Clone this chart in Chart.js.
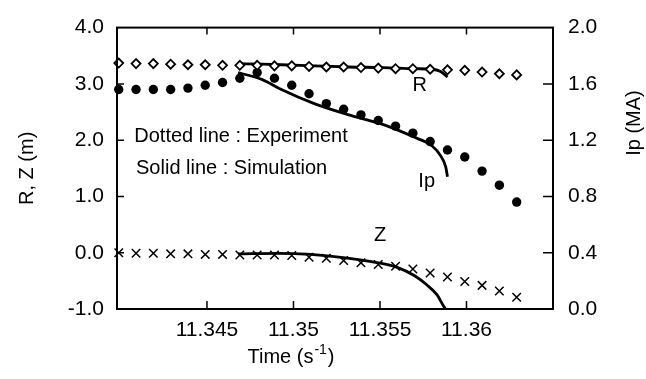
<!DOCTYPE html>
<html>
<head>
<meta charset="utf-8">
<script src="https://cdn.jsdelivr.net/npm/chart.js@4.4.1/dist/chart.umd.min.js"></script>
<style>
  html, body { margin: 0; padding: 0; background: #fff; }
</style>
</head>
<body>
<canvas id="chart" width="646" height="379"></canvas>
<script>
const FONT = "'Liberation Sans', Arial, Helvetica, sans-serif";

// ===== data =====
// experiment (markers)
const expTime = [11.3399, 11.3409, 11.3419, 11.3429, 11.3439, 11.3449, 11.3459, 11.3469,
                 11.3479, 11.3489, 11.3499, 11.3509, 11.3519, 11.3529, 11.3539, 11.3549,
                 11.3559, 11.3569, 11.3579, 11.3589, 11.3599, 11.3609, 11.3619, 11.3629];
const rExp  = [3.37, 3.36, 3.36, 3.35, 3.34, 3.34, 3.33, 3.33, 3.33, 3.32, 3.32, 3.31,
               3.30, 3.30, 3.29, 3.28, 3.27, 3.27, 3.26, 3.25, 3.24, 3.21, 3.18, 3.16];
const ipExp = [1.56, 1.56, 1.56, 1.56, 1.57, 1.59, 1.61, 1.64, 1.68, 1.64, 1.59, 1.53,
               1.46, 1.42, 1.38, 1.34, 1.30, 1.25, 1.19, 1.13, 1.08, 0.98, 0.88, 0.76];
const zExp  = [0.00, -0.01, -0.01, -0.02, -0.02, -0.03, -0.03, -0.04, -0.04, -0.04, -0.05, -0.08,
               -0.10, -0.14, -0.18, -0.21, -0.24, -0.29, -0.36, -0.43, -0.51, -0.58, -0.68, -0.79];

// simulation (solid lines)
const simTime = [11.3468, 11.3482, 11.3493, 11.3512, 11.3532, 11.3552, 11.3570, 11.3580, 11.3585, 11.3588, 11.3589];
const rSim    = [3.36, 3.35, 3.34, 3.32, 3.30, 3.29, 3.27, 3.26, 3.22, 3.15, 3.12];
const ipSim   = [1.68, 1.63, 1.56, 1.46, 1.38, 1.31, 1.22, 1.16, 1.09, 1.01, 0.94];
const zSimTime = [11.3468, 11.3491, 11.3510, 11.3530, 11.3549, 11.3560, 11.3570, 11.3577, 11.3583, 11.3587, 11.3588];
const zSim     = [-0.02, -0.01, -0.03, -0.09, -0.18, -0.26, -0.41, -0.57, -0.75, -0.96, -1.00];

// axes
const xMin = 11.3398, xMax = 11.365;
const xTicks = [11.345, 11.35, 11.355, 11.36];
const xTickLabels = ['11.345', '11.35', '11.355', '11.36'];
const leftTicks = [-1, 0, 1, 2, 3, 4];
const rightTicks = [0, 0.4, 0.8, 1.2, 1.6, 2.0];

// text inside the plot (data coordinates, left axis)
const notes = [
  { text: 'R', x: 11.3573, y: 2.98, align: 'center' },
  { text: 'Ip', x: 11.3577, y: 1.27, align: 'center' },
  { text: 'Z', x: 11.3550, y: 0.30, align: 'center' },
  { text: 'Dotted line : Experiment', x: 11.3408, y: 2.06, align: 'left' },
  { text: 'Solid line : Simulation', x: 11.3409, y: 1.50, align: 'left' }
];

const pts = (xs, ys) => xs.map((x, i) => ({ x: x, y: ys[i] }));

// ===== frame, inward ticks, notes, titles =====
const paperFrame = {
  id: 'paperFrame',
  afterDatasetsDraw(chart) {
    const c = chart.ctx;
    const a = chart.chartArea;
    const sx = chart.scales.x, sy = chart.scales.y, sy1 = chart.scales.y1;
    c.save();
    c.strokeStyle = '#000';
    c.lineWidth = 2;
    c.strokeRect(a.left, a.top, a.right - a.left, a.bottom - a.top);

    c.lineWidth = 1.5;
    c.beginPath();
    xTicks.forEach(v => {
      const px = sx.getPixelForValue(v);
      c.moveTo(px, a.bottom); c.lineTo(px, a.bottom - 8);
      c.moveTo(px, a.top); c.lineTo(px, a.top + 7);
    });
    leftTicks.slice(1, -1).forEach(v => {
      const py = sy.getPixelForValue(v);
      c.moveTo(a.left, py); c.lineTo(a.left + 7, py);
    });
    rightTicks.slice(1, -1).forEach(v => {
      const py = sy1.getPixelForValue(v);
      c.moveTo(a.right, py); c.lineTo(a.right - 10, py);
    });
    c.stroke();

    c.fillStyle = '#000';
    c.textBaseline = 'middle';
    c.font = '20px ' + FONT;
    notes.forEach(n => {
      c.textAlign = n.align;
      c.fillText(n.text, sx.getPixelForValue(n.x), sy.getPixelForValue(n.y));
    });

    // x title with superscript
    c.textAlign = 'left';
    const p1 = 'Time (s', p3 = ')';
    const w1 = c.measureText(p1).width, w3 = c.measureText(p3).width;
    c.font = '14px ' + FONT;
    const w2 = c.measureText('-1').width;
    const tx = 291 - (w1 + w2 + w3 + 2) / 2;
    const ty = 357;
    c.font = '20px ' + FONT;
    c.fillText(p1, tx, ty);
    c.font = '14px ' + FONT;
    c.fillText('-1', tx + w1 + 1, ty - 7);
    c.font = '20px ' + FONT;
    c.fillText(p3, tx + w1 + w2 + 2, ty);

    // right title, reading bottom to top
    c.translate(634, 123);
    c.rotate(-Math.PI / 2);
    c.textAlign = 'center';
    c.fillText('Ip (MA)', 0, 0);
    c.restore();
  }
};

new Chart(document.getElementById('chart'), {
  type: 'line',
  data: {
    datasets: [
      {
        label: 'R experiment', data: pts(expTime, rExp), yAxisID: 'y', showLine: false,
        pointStyle: 'rectRot', pointRadius: 4.5, pointBorderWidth: 1.8,
        pointBackgroundColor: '#fff', pointBorderColor: '#000', clip: false
      },
      {
        label: 'Ip experiment', data: pts(expTime, ipExp), yAxisID: 'y1', showLine: false,
        pointStyle: 'circle', pointRadius: 4.7, pointBorderWidth: 0,
        pointBackgroundColor: '#000', pointBorderColor: '#000', clip: false
      },
      {
        label: 'Z experiment', data: pts(expTime, zExp), yAxisID: 'y', showLine: false,
        pointStyle: 'crossRot', pointRadius: 6, pointBorderWidth: 1.5,
        pointBorderColor: '#000', clip: false
      },
      {
        label: 'R simulation', data: pts(simTime, rSim), yAxisID: 'y',
        borderColor: '#000', borderWidth: 2.8, pointRadius: 0, cubicInterpolationMode: 'monotone', clip: false
      },
      {
        label: 'Ip simulation', data: pts(simTime, ipSim), yAxisID: 'y1',
        borderColor: '#000', borderWidth: 2.8, pointRadius: 0, cubicInterpolationMode: 'monotone', clip: false
      },
      {
        label: 'Z simulation', data: pts(zSimTime, zSim), yAxisID: 'y',
        borderColor: '#000', borderWidth: 2.8, pointRadius: 0, cubicInterpolationMode: 'monotone', clip: false
      }
    ]
  },
  options: {
    responsive: false,
    animation: false,
    layout: { padding: { top: 24, left: 0, right: 0, bottom: 0 } },
    plugins: { legend: { display: false }, tooltip: { enabled: false } },
    scales: {
      x: {
        type: 'linear', min: xMin, max: xMax,
        grid: { display: false, drawTicks: false }, border: { display: false },
        afterBuildTicks: s => { s.ticks = xTicks.map(v => ({ value: v })); },
        afterFit: s => { s.height = 70; },
        ticks: {
          color: '#000', font: { family: FONT, size: 21 }, padding: 9,
          maxRotation: 0, autoSkip: false,
          callback: (v, i) => xTickLabels[i]
        }
      },
      y: {
        position: 'left', min: -1, max: 4,
        grid: { display: false, drawTicks: false }, border: { display: false },
        afterBuildTicks: s => { s.ticks = leftTicks.map(v => ({ value: v })); },
        afterFit: s => { s.width = 117; },
        ticks: {
          color: '#000', font: { family: FONT, size: 21 }, padding: 13,
          callback: v => v.toFixed(1)
        },
        title: {
          display: true, text: 'R, Z (m)', color: '#000',
          font: { family: FONT, size: 20 }, padding: { top: 15, bottom: 0 }
        }
      },
      y1: {
        position: 'right', min: 0, max: 2,
        grid: { display: false, drawTicks: false }, border: { display: false },
        afterBuildTicks: s => { s.ticks = rightTicks.map(v => ({ value: v })); },
        afterFit: s => { s.width = 93; },
        ticks: {
          color: '#000', font: { family: FONT, size: 21 }, padding: 15,
          callback: v => v.toFixed(1)
        }
      }
    }
  },
  plugins: [paperFrame]
});
</script>
</body>
</html>
